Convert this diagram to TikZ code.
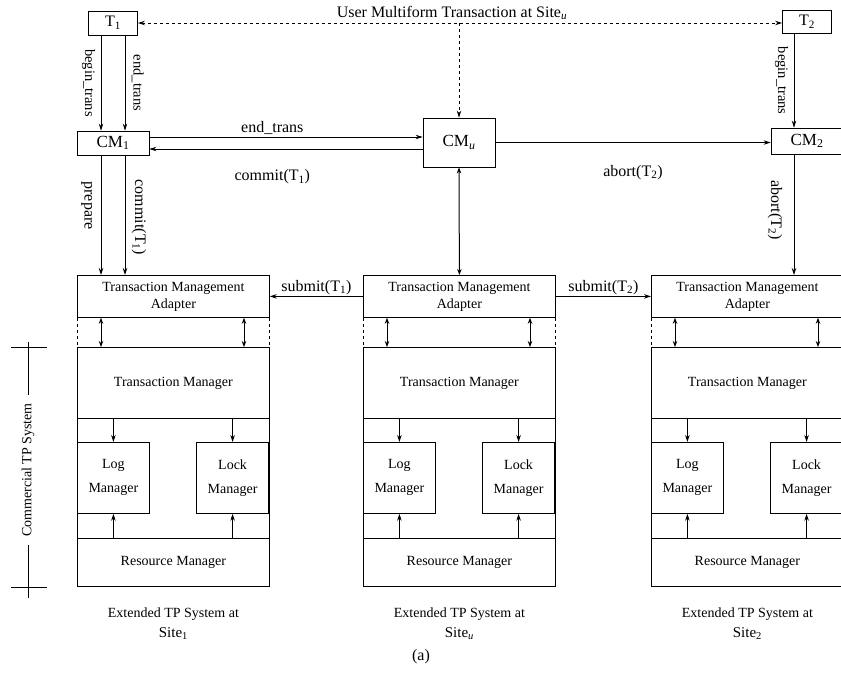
\documentclass[tikz,border=0pt]{standalone}
\usepackage{fontspec}
\setmainfont{Liberation Serif}
\usetikzlibrary{calc,arrows.meta}
\tikzset{part box/.style={draw, minimum width=192pt, inner sep=0pt, align=center,
           font=\fontsize{14}{17}\selectfont},
     mgr box/.style={draw, minimum width=72pt, minimum height=71pt, inner sep=0pt,
           align=center, font=\fontsize{14}{24}\selectfont},
     cm box/.style={draw, minimum width=72pt, inner sep=0pt, font=\fontsize{17}{19}\selectfont},
     msg/.style={font=\fontsize{16}{18}\selectfont},
     tag/.style={font=\fontsize{14.5}{16}\selectfont},
     flow/.style={-{Stealth[length=7pt,width=4.5pt]}},
     both flow/.style={{Stealth[length=6pt,width=4.5pt]}-{Stealth[length=6pt,width=4.5pt]}}
}
\def\TPSystem#1#2#3{%
 \node[part box, minimum height=42pt, anchor=north west] (#1tma) at (#2,275)
      {Transaction Management\\Adapter};
 \node[part box, minimum height=71pt, anchor=north west] (#1tm) at (#2,347) {Transaction Manager};
 \node[mgr box, anchor=north west] (#1log) at (#2,442) {Log\\Manager};
 \node[mgr box, anchor=north east] (#1lock) at ($(#1log.north west)+(192,0)$) {Lock\\Manager};
 \node[part box, minimum height=48pt, anchor=north west] (#1rm) at (#2,538) {Resource Manager};
 \draw[dashed] (#1tma.south west) -- (#1tm.north west);
 \draw[dashed] (#1tma.south east) -- (#1tm.north east);
 \draw (#1tm.south west) -- (#1rm.north west);
 \draw (#1tm.south east) -- (#1rm.north east);
 \draw[both flow] ($(#1tma.south west)+(24,0)$) -- ($(#1tm.north west)+(24,0)$);
 \draw[both flow] ($(#1tma.south west)+(167,0)$) -- ($(#1tm.north west)+(167,0)$);
 \foreach \m in {log,lock}{
   \draw[flow] (#1\m.north |- #1tm.south) -- (#1\m.north);
   \draw[flow] (#1\m.south |- #1rm.north) -- (#1\m.south);
 }
 \node[font=\fontsize{14}{16}\selectfont] (#1ext) at ($(#1rm.south)+(0,27)$) {Extended TP System at};
 \node[font=\fontsize{15}{17}\selectfont] (#1site) at ($(#1rm.south)+(0,47)$) {Site\textsubscript{#3}};
}

\begin{document}
\begin{tikzpicture}[x=1pt, y=-1pt, line width=0.8pt]
\useasboundingbox (0,0) rectangle (841,689);

\TPSystem{s1}{77}{1}
\TPSystem{su}{363}{\itshape u}
\TPSystem{s2}{651}{2}

% transactions and coordination managers
\node[cm box, minimum width=49pt, minimum height=24pt, font=\fontsize{16}{18}\selectfont] (T1) at (113,23) {T\textsubscript{1}};
\node[cm box, minimum width=49pt, minimum height=23pt, font=\fontsize{16}{18}\selectfont] (T2) at (807,22) {T\textsubscript{2}};
\node[cm box, minimum height=24pt] (CM1) at (113,143) {CM\textsubscript{1}};
\node[cm box, minimum height=49pt] (CMu) at (459,142.5) {CM\textsubscript{\itshape u}};
\node[cm box, minimum height=26pt] (CM2) at (807,141) {CM\textsubscript{2}};

\node[msg] (user) at (452,13) {User Multiform Transaction at Site\textsubscript{\itshape u}};
\draw[dashed, {Stealth[length=7pt,width=4.5pt,open]}-{Stealth[length=7pt,width=4.5pt,open]}]
  (T1.east) -- (T1.east -| T2.west);
\coordinate (fork) at (T1.east -| CMu.north);
\draw[dashed, flow] (fork) -- (CMu.north);

\draw[flow] ([xshift=-12pt]T1.south) -- ([xshift=-12pt]CM1.north)
  node[tag, midway, sloped, below=2pt] {begin\_trans};
\draw[flow] ([xshift=12pt]T1.south) -- ([xshift=12pt]CM1.north)
  node[tag, midway, sloped, above=3pt] {end\_trans};
\draw[flow] ([xshift=-13pt]T2.south) -- ([xshift=-13pt]CM2.north)
  node[tag, midway, sloped, below=2pt] {begin\_trans};

\draw[flow] ([xshift=-12pt]CM1.south) -- ($(s1tma.north west)+(24,0)$)
  node[msg, pos=0.42, sloped, below=5pt] {prepare};
\draw[flow] ([xshift=12pt]CM1.south) -- ($(s1tma.north west)+(48,0)$)
  node[msg, pos=0.52, sloped, above=3pt] {commit(T\textsubscript{1})};
\draw[flow] ([xshift=-13pt]CM2.south) -- ($(s2tma.north west)+(143,0)$)
  node[msg, pos=0.46, sloped, below=8pt] {abort(T\textsubscript{2})};

\coordinate (e1) at ([yshift=6pt]CM1.east);
\coordinate (c1) at ([yshift=-6pt]CM1.east);
\draw[flow] (e1) -- (e1 -| CMu.west)
  node[msg, pos=0.45, above=-1pt] {end\_trans};
\draw[flow] (c1 -| CMu.west) -- (c1)
  node[msg, pos=0.55, below=17pt] {commit(T\textsubscript{1})};
\draw[flow] (CMu.east) -- (CMu.east -| CM2.west)
  node[msg, midway, below=19pt] {abort(T\textsubscript{2})};
\draw[both flow, line width=1pt] (CMu.south) -- (sutma.north);

\draw[flow] (sutma.west) -- (s1tma.east)
  node[msg, midway, above=-2pt] {submit(T\textsubscript{1})};
\draw[flow] (sutma.east) -- (s2tma.west)
  node[msg, midway, above=-2pt] {submit(T\textsubscript{2})};

% commercial TP system bracket
\draw (11,347) -- (47,347);
\draw (11,587) -- (47,587);
\draw (28,342) -- (28,598);
\node[rotate=90, fill=white, inner xsep=8pt, font=\fontsize{14}{16}\selectfont] (ctp) at (28,470) {Commercial TP System};

\node[msg] (cap) at (421,657) {(a)};
\end{tikzpicture}
\end{document}
